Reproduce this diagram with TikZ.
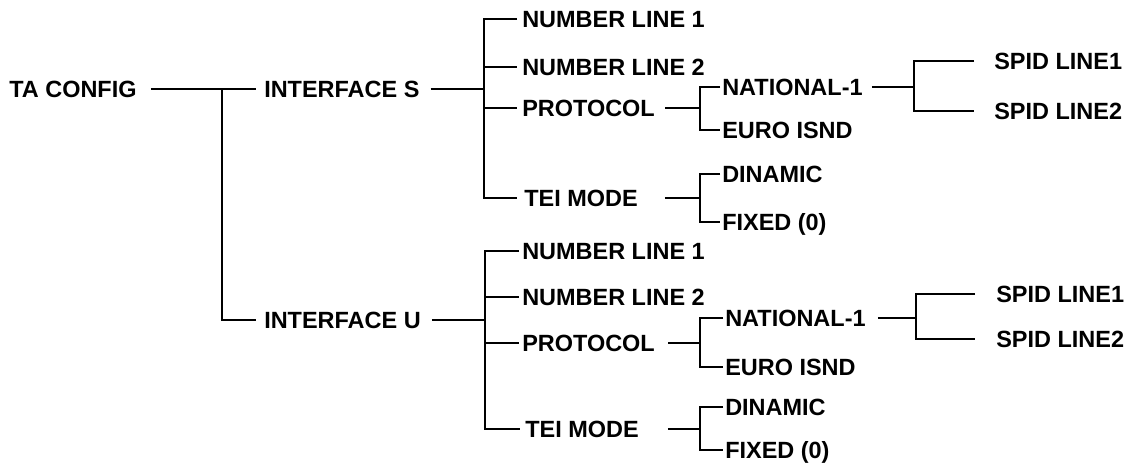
\documentclass[tikz,border=0pt]{standalone}
\usepackage{fontspec}
\setmainfont{Liberation Sans}
\usetikzlibrary{calc}
\begin{document}
\begin{tikzpicture}[x=0.75pt,y=-0.75pt,
  lbl/.style={anchor=west,inner sep=0pt,font=\bfseries\fontsize{17.6}{17.6}\selectfont,text height=12.6pt,text depth=0pt},
  conn/.style={line width=1.5pt}]
\useasboundingbox (0,0) rectangle (1136,463);
\fill[white] (0,0) rectangle (1136,463);
% upper
\node[lbl] (ta)   at (9,89)    {TA CONFIG};
\node[lbl] (ifs)  at (264,89)  {INTERFACE S};
\node[lbl] (n1s)  at (522,19)  {NUMBER LINE 1};
\node[lbl] (n2s)  at (522,67)  {NUMBER LINE 2};
\node[lbl] (pros) at (522,108) {PROTOCOL};
\node[lbl] (teis) at (524,198) {TEI MODE};
\node[lbl] (nat)  at (722,87)  {NATIONAL-1};
\node[lbl] (euro) at (722,130) {EURO ISND};
\node[lbl] (din)  at (722,174) {DINAMIC};
\node[lbl] (fix)  at (722,222) {FIXED (0)};
\node[lbl] (sp1)  at (994,61)  {SPID LINE1};
\node[lbl] (sp2)  at (994,111) {SPID LINE2};
% lower
\node[lbl] (ifu)  at (264,320) {INTERFACE U};
\node[lbl] (n1u)  at (522,251) {NUMBER LINE 1};
\node[lbl] (n2u)  at (522,297) {NUMBER LINE 2};
\node[lbl] (prou) at (522,343) {PROTOCOL};
\node[lbl] (teiu) at (525,429) {TEI MODE};
\node[lbl] (natu) at (725,318) {NATIONAL-1};
\node[lbl] (eurou) at (725,367) {EURO ISND};
\node[lbl] (dinu) at (725,407) {DINAMIC};
\node[lbl] (fixu) at (725,450) {FIXED (0)};
\node[lbl] (sp1u) at (996,294) {SPID LINE1};
\node[lbl] (sp2u) at (996,339) {SPID LINE2};
% junctions
\coordinate (j0) at (222,89);
\coordinate (jS) at (484,89);
\coordinate (jU) at (485,320);
\coordinate (jP) at (700,108);
\coordinate (jP2) at (700,343);
\coordinate (jN) at (914,87);
\coordinate (jN2) at (916,318);
% root
\draw[conn] ($(ta.east)+(14,0)$) -- ($(ifs.west)+(-8,0)$);
\draw[conn] (j0) |- ($(ifu.west)+(-8,0)$);
% interface S
\draw[conn] ($(ifs.east)+(11,0)$) -- (jS);
\draw[conn] ($(n1s.west)+(-5,0)$) -| (jS |- teis) -- ($(teis.west)+(-7,0)$);
\draw[conn] (jS |- n2s) -- ($(n2s.west)+(-5,0)$);
\draw[conn] (jS |- pros) -- ($(pros.west)+(-5,0)$);
\draw[conn] ($(pros.east)+(10,0)$) -- (jP |- pros);
\draw[conn] ($(nat.west)+(-2,0)$) -| (jP |- euro) -- ($(euro.west)+(-2,0)$);
\draw[conn] ($(teis.east)+(27,0)$) -- (jP |- teis);
\draw[conn] ($(din.west)+(-2,0)$) -| (jP |- fix) -- ($(fix.west)+(-2,0)$);
\draw[conn] ($(nat.east)+(9,0)$) -- (jN |- nat);
\draw[conn] ($(sp1.west)+(-20,0)$) -| (jN |- sp2) -- ($(sp2.west)+(-20,0)$);
% interface U
\draw[conn] ($(ifu.east)+(11,0)$) -- (jU);
\draw[conn] ($(n1u.west)+(-3,0)$) -| (jU |- teiu) -- ($(teiu.west)+(-5,0)$);
\draw[conn] (jU |- n2u) -- ($(n2u.west)+(-3,0)$);
\draw[conn] (jU |- prou) -- ($(prou.west)+(-3,0)$);
\draw[conn] ($(prou.east)+(13,0)$) -- (jP2 |- prou);
\draw[conn] ($(natu.west)+(-2,0)$) -| (jP2 |- eurou) -- ($(eurou.west)+(-2,0)$);
\draw[conn] ($(teiu.east)+(29,0)$) -- (jP2 |- teiu);
\draw[conn] ($(dinu.west)+(-2,0)$) -| (jP2 |- fixu) -- ($(fixu.west)+(-2,0)$);
\draw[conn] ($(natu.east)+(12,0)$) -- (jN2 |- natu);
\draw[conn] ($(sp1u.west)+(-21,0)$) -| (jN2 |- sp2u) -- ($(sp2u.west)+(-21,0)$);
\end{tikzpicture}
\end{document}
